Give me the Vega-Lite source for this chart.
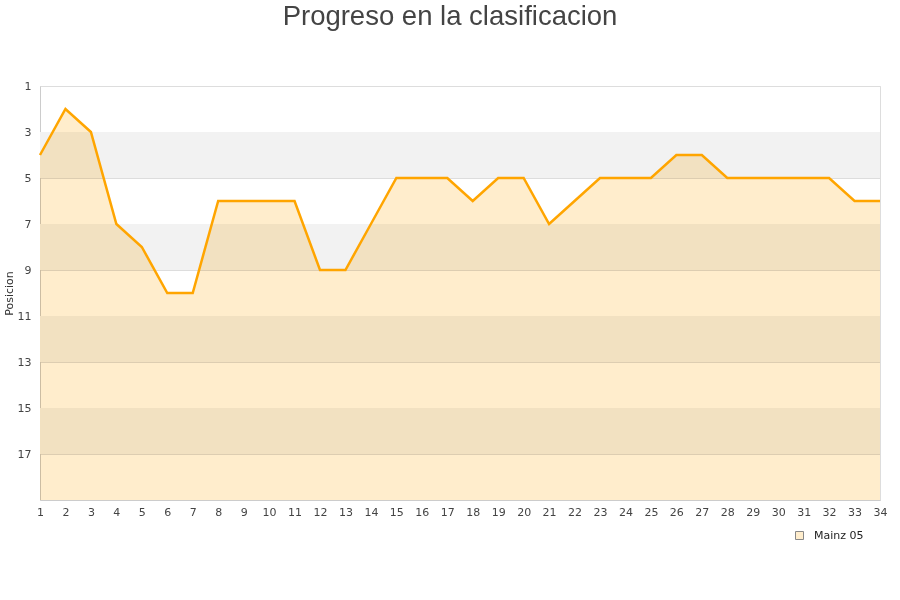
{
  "$schema": "https://vega.github.io/schema/vega-lite/v6.json",
  "width": 840,
  "height": 414,
  "autosize": {"type": "none"},
  "padding": {"left": 40, "top": 86, "right": 20, "bottom": 100},
  "background": "white",
  "title": {
    "text": "Progreso en la clasificacion",
    "font": "Liberation Sans",
    "fontSize": 27.5,
    "fontWeight": "normal",
    "color": "#444444",
    "anchor": "middle",
    "frame": "group",
    "dx": -10,
    "offset": 50
  },
  "config": {
    "view": {"stroke": "#dddddd"},
    "axis": {
      "labelFont": "DejaVu Sans",
      "labelFontSize": 11,
      "labelColor": "#444444",
      "titleFont": "DejaVu Sans",
      "titleFontSize": 11,
      "titleFontWeight": "normal",
      "titleColor": "#333333",
      "ticks": false,
      "domainColor": "#cccccc",
      "gridColor": "#dddddd"
    },
    "axisX": {"labelOverlap": false, "labelSeparation": 0},
    "legend": {
      "labelFont": "DejaVu Sans",
      "labelFontSize": 11,
      "labelColor": "#222222"
    }
  },
  "datasets": {
    "bands": [
      {"y1": 3, "y2": 5},
      {"y1": 7, "y2": 9},
      {"y1": 11, "y2": 13},
      {"y1": 15, "y2": 17}
    ],
    "progress": [
      {"jornada": 1, "posicion": 4, "equipo": "Mainz 05"},
      {"jornada": 2, "posicion": 2, "equipo": "Mainz 05"},
      {"jornada": 3, "posicion": 3, "equipo": "Mainz 05"},
      {"jornada": 4, "posicion": 7, "equipo": "Mainz 05"},
      {"jornada": 5, "posicion": 8, "equipo": "Mainz 05"},
      {"jornada": 6, "posicion": 10, "equipo": "Mainz 05"},
      {"jornada": 7, "posicion": 10, "equipo": "Mainz 05"},
      {"jornada": 8, "posicion": 6, "equipo": "Mainz 05"},
      {"jornada": 9, "posicion": 6, "equipo": "Mainz 05"},
      {"jornada": 10, "posicion": 6, "equipo": "Mainz 05"},
      {"jornada": 11, "posicion": 6, "equipo": "Mainz 05"},
      {"jornada": 12, "posicion": 9, "equipo": "Mainz 05"},
      {"jornada": 13, "posicion": 9, "equipo": "Mainz 05"},
      {"jornada": 14, "posicion": 7, "equipo": "Mainz 05"},
      {"jornada": 15, "posicion": 5, "equipo": "Mainz 05"},
      {"jornada": 16, "posicion": 5, "equipo": "Mainz 05"},
      {"jornada": 17, "posicion": 5, "equipo": "Mainz 05"},
      {"jornada": 18, "posicion": 6, "equipo": "Mainz 05"},
      {"jornada": 19, "posicion": 5, "equipo": "Mainz 05"},
      {"jornada": 20, "posicion": 5, "equipo": "Mainz 05"},
      {"jornada": 21, "posicion": 7, "equipo": "Mainz 05"},
      {"jornada": 22, "posicion": 6, "equipo": "Mainz 05"},
      {"jornada": 23, "posicion": 5, "equipo": "Mainz 05"},
      {"jornada": 24, "posicion": 5, "equipo": "Mainz 05"},
      {"jornada": 25, "posicion": 5, "equipo": "Mainz 05"},
      {"jornada": 26, "posicion": 4, "equipo": "Mainz 05"},
      {"jornada": 27, "posicion": 4, "equipo": "Mainz 05"},
      {"jornada": 28, "posicion": 5, "equipo": "Mainz 05"},
      {"jornada": 29, "posicion": 5, "equipo": "Mainz 05"},
      {"jornada": 30, "posicion": 5, "equipo": "Mainz 05"},
      {"jornada": 31, "posicion": 5, "equipo": "Mainz 05"},
      {"jornada": 32, "posicion": 5, "equipo": "Mainz 05"},
      {"jornada": 33, "posicion": 6, "equipo": "Mainz 05"},
      {"jornada": 34, "posicion": 6, "equipo": "Mainz 05"}
    ]
  },
  "layer": [
    {
      "data": {"name": "bands"},
      "mark": {"type": "rect", "fill": "#f2f2f2"},
      "encoding": {
        "y": {"field": "y1", "type": "quantitative", "scale": {"domain": [1, 19], "reverse": true, "nice": false, "zero": false}},
        "y2": {"field": "y2"}
      }
    },
    {
      "data": {"name": "progress"},
      "mark": {"type": "area", "fillOpacity": 1, "blend": "multiply", "interpolate": "linear"},
      "encoding": {
        "x": {
          "field": "jornada", "type": "quantitative",
          "scale": {"domain": [1, 34], "nice": false, "zero": false},
          "axis": null
        },
        "y": {
          "field": "posicion", "type": "quantitative",
          "scale": {"domain": [1, 19], "reverse": true, "nice": false, "zero": false},
          "axis": {
            "title": "Posicion",
            "values": [1, 3, 5, 7, 9, 11, 13, 15, 17],
            "grid": true,
            "labelPadding": 9,
            "titlePadding": 3
          }
        },
        "y2": {"datum": 19},
        "fill": {
          "field": "equipo", "type": "nominal",
          "scale": {"range": ["#FFEDCC"]},
          "legend": {
            "title": null,
            "orient": "none",
            "legendX": 754,
            "legendY": 444,
            "symbolType": "square",
            "symbolSize": 64,
            "symbolStrokeColor": "#888888",
            "symbolStrokeWidth": 1,
            "labelOffset": 9
          }
        }
      }
    },
    {
      "data": {"name": "progress"},
      "mark": {"type": "line", "color": "#FFA500", "strokeWidth": 2.5},
      "encoding": {
        "x": {
          "field": "jornada", "type": "ordinal",
          "scale": {"type": "point", "padding": 0},
          "axis": {
            "title": null,
            "labelAngle": 0,
            "grid": false,
            "labelPadding": 6,
            "labelOverlap": false
          }
        },
        "y": {"field": "posicion", "type": "quantitative"}
      }
    }
  ],
  "resolve": {"scale": {"x": "independent"}}
}
